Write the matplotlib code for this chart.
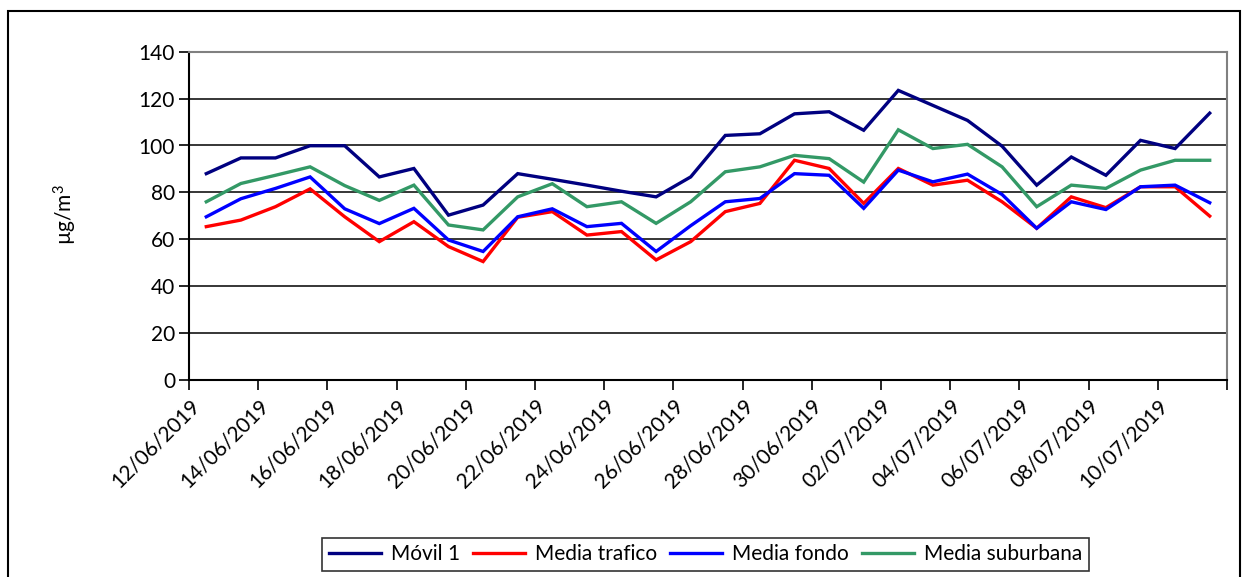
import matplotlib
matplotlib.use("Agg")
import matplotlib.pyplot as plt
from matplotlib.patches import Rectangle
import datetime as dt

plt.rcParams['font.family'] = ['Lato', 'DejaVu Sans']
plt.rcParams['mathtext.fontset'] = 'custom'
plt.rcParams['mathtext.rm'] = 'Lato'
plt.rcParams['mathtext.it'] = 'Lato'
plt.rcParams['mathtext.default'] = 'regular'

start = dt.date(2019, 6, 12)
dates = [start + dt.timedelta(days=i) for i in range(30)]
tick_labels = [(start + dt.timedelta(days=2 * k)).strftime("%d/%m/%Y") for k in range(15)] + [""]

movil = [88.0, 94.7, 94.7, 99.9, 99.9, 86.6, 90.2, 70.3, 74.6, 88.0, 85.6, 83.1, 80.5, 78.1, 86.6,
         104.3, 105.0, 113.5, 114.4, 106.5, 123.5, 117.1, 110.7, 99.7, 83.1, 95.1, 87.3, 102.2, 98.7, 113.8]
trafico = [65.4, 68.2, 73.9, 81.5, 69.6, 59.0, 67.5, 56.9, 50.5, 69.4, 71.8, 61.8, 63.3, 51.2, 59.0,
           71.8, 75.3, 93.7, 90.2, 75.3, 90.2, 83.1, 85.2, 76.0, 64.7, 78.1, 73.5, 82.4, 82.4, 69.9]
fondo = [69.6, 77.3, 81.7, 86.6, 73.0, 66.7, 73.2, 59.7, 54.8, 69.6, 73.0, 65.4, 66.8, 54.8, 65.8,
         76.0, 77.4, 88.0, 87.3, 73.2, 89.5, 84.5, 87.8, 79.1, 64.7, 76.0, 72.7, 82.4, 83.1, 75.6]
suburbana = [76.0, 83.8, 87.3, 90.9, 82.9, 76.6, 83.1, 66.1, 64.0, 78.1, 83.7, 73.9, 76.0, 66.8, 76.0,
             88.8, 90.9, 95.8, 94.4, 84.4, 106.7, 98.7, 100.5, 90.9, 73.9, 83.1, 81.7, 89.5, 93.7, 93.7]

series_names = ["Móvil 1", "Media trafico", "Media fondo", "Media suburbana"]
colors = ["#000080", "#FF0000", "#0000FF", "#339966"]

FS = 15

fig = plt.figure(figsize=(12.43, 5.77), dpi=100)
ax = fig.add_axes([189 / 1243, 1 - 380 / 577, (1227 - 189) / 1243, (380 - 51.7) / 577])

x = [i + 0.5 for i in range(len(dates))]
for vals, name, c in zip([movil, trafico, fondo, suburbana], series_names, colors):
    ax.plot(x, vals, color=c, lw=2.4, label=name, solid_joinstyle='miter')

ax.set_xlim(0, 30)
ax.set_ylim(0, 140)
ax.set_yticks(range(0, 141, 20))
ax.set_xticks(range(0, 31, 2))
ax.set_xticklabels(tick_labels, rotation=45, ha='right', va='top', rotation_mode='anchor', fontsize=FS)
ax.tick_params(axis='x', direction='out', length=7, width=1.2, pad=4, color='black')
ax.tick_params(axis='y', direction='out', length=7, width=1.2, pad=3, labelsize=FS, color='black')
ax.yaxis.grid(True, color='black', lw=1.1)
ax.set_axisbelow(True)
for s in ['top', 'right']:
    ax.spines[s].set_color('#808080')
    ax.spines[s].set_linewidth(1.5)
for s in ['left', 'bottom']:
    ax.spines[s].set_color('black')
    ax.spines[s].set_linewidth(1.5)

fig.text(65 / 1243, 1 - 215 / 577, r"µg/m$^{3}$", rotation=90, ha='center', va='center', fontsize=FS)

leg = fig.legend(loc='center', bbox_to_anchor=(705.5 / 1243, 1 - 554.5 / 577), ncol=4,
                 fontsize=FS, frameon=True, fancybox=False, edgecolor='black',
                 handlelength=2.5, handletextpad=0.5, columnspacing=0.6, borderpad=0.3)
leg.get_frame().set_linewidth(1.2)

fig.patches.append(Rectangle((8 / 1243, -0.01), (1240 - 8) / 1243, 1 - 11 / 577 + 0.01,
                             transform=fig.transFigure, fill=False, edgecolor='black', lw=1.5))

fig.savefig("out.png", dpi=100)
